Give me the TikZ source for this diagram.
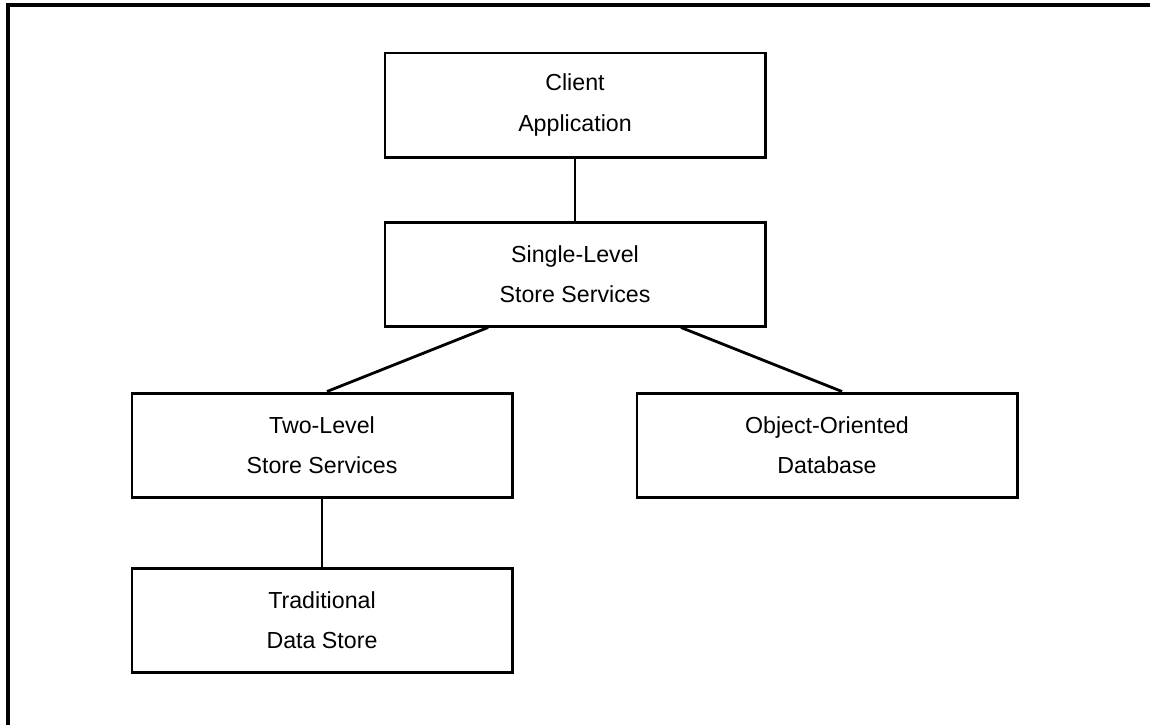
\documentclass[tikz,border=0pt]{standalone}
\usepackage{fontspec}
\setmainfont{Liberation Sans}
\usetikzlibrary{calc}

\begin{document}
\begin{tikzpicture}[x=0.2mm, y=-0.2mm,
  box/.style={draw, line width=1.7pt, minimum width=76mm, minimum height=20.8mm,
    inner sep=0pt, align=center, font=\fontsize{13.2}{23}\selectfont},
  link/.style={line width=1.6pt}]
  \useasboundingbox (0,0) rectangle (1150,725);
  % frame, top and left side only
  \draw[line width=2pt] (8,725) -- (8,5) -- (1150,5);
  % layers
  \node[box] (client) at (575,105) {Client\\Application};
  \node[box] (single) at (575,274) {Single-Level\\Store Services};
  \node[box] (two) at (322,445) {Two-Level\\Store Services};
  \node[box] (oodb) at (827,445) {Object-Oriented\\Database};
  \node[box] (trad) at (322,620) {Traditional\\Data Store};
  % attach points on the box edges
  \coordinate (singleL) at ($(single.south)+(-87,0)$);
  \coordinate (singleR) at ($(single.south)+(106,0)$);
  \coordinate (twoTop) at ($(two.north)+(5,0)$);
  \coordinate (oodbTop) at ($(oodb.north)+(15,0)$);
  \draw[link] (client) -- (single);
  \draw[link] (singleL) -- (twoTop);
  \draw[link] (singleR) -- (oodbTop);
  \draw[link] (two) -- (trad);
\end{tikzpicture}
\end{document}
